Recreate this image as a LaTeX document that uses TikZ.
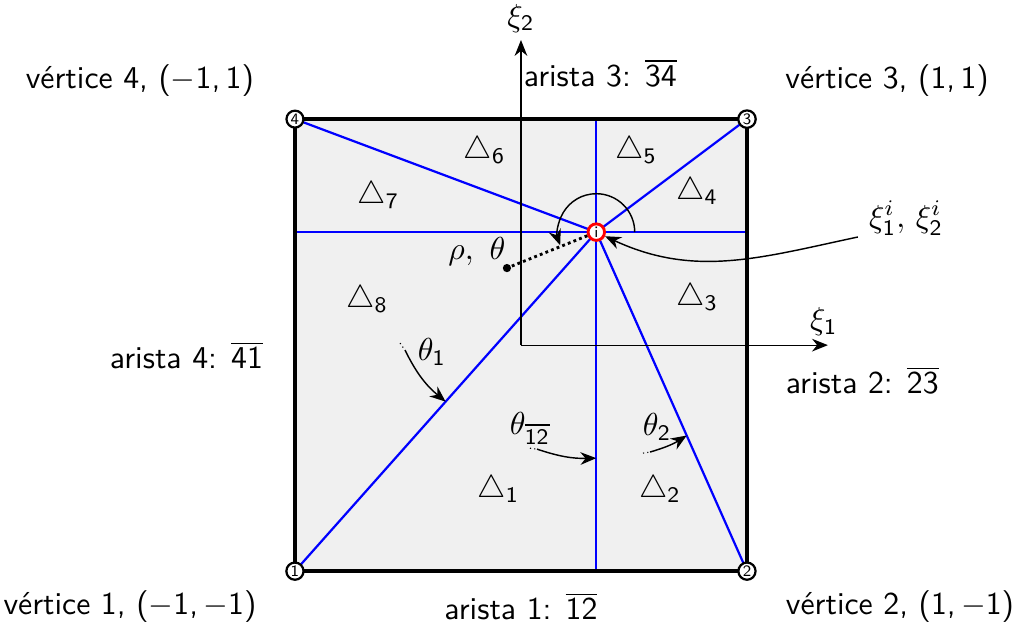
\documentclass[tikz,border=0pt]{standalone}
\usetikzlibrary{arrows.meta}
\renewcommand{\familydefault}{\sfdefault}

\begin{document}
\begin{tikzpicture}[
  x=2.5cm, y=2.5cm,
  >={Stealth[length=5pt,width=4pt]},
  element/.style={draw=black, line width=1.3pt},
  subdiv/.style={draw=blue, line width=0.7pt},
  axis/.style={->, draw=black, line width=0.4pt},
  vertex/.style={circle, draw=black, fill=white, line width=0.7pt, inner sep=0.4pt, minimum size=4.6pt, font=\sffamily\fontsize{5}{5}\selectfont},
  point_i/.style={circle, draw=red, fill=white, line width=0.9pt, inner sep=0pt, minimum size=5.2pt, font=\sffamily\fontsize{5}{5}\selectfont},
  angle_arrow/.style={->, draw=black, line width=0.45pt},
  angle_tail/.style={densely dotted, draw=black, line width=0.35pt},
  dot/.style={circle, fill=black, inner sep=0pt, minimum size=2.6pt}
]

\useasboundingbox (-2.305,-1.252) rectangle (2.177,1.527);

% Element corners and interior point
\foreach \k/\x/\y in {1/-1/-1,2/1/-1,3/1/1,4/-1/1} {
  \coordinate (c\k) at (\x,\y);
}
\coordinate (ic) at (0.3333,0.5);

% --- Element and subdivision ---
\fill[black!6] (c1) rectangle (c3);
\draw[subdiv] (c1 |- ic) -- (c2 |- ic);
\draw[subdiv] (ic |- c1) -- (ic |- c4);
\foreach \k in {1,...,4} {
  \draw[subdiv] (ic) -- (c\k);
}
\draw[element] (c1) rectangle (c3);

% --- Local axes ---
\coordinate (o) at (0,0);
\coordinate (e1) at (1.358,0);
\coordinate (e2) at (0,1.35);
\draw[axis] (o) -- (e1);
\draw[axis] (o) -- (e2);
\node (xi1) at (1.34,0.105) {$\xi_{\mathsf{1}}$};
\node (xi2) at (0,1.447) {$\xi_{\mathsf{2}}$};

% --- Polar coordinates around i ---
\draw[angle_arrow] ([shift={(0:0.17)}]ic) arc[start angle=0, end angle=200, radius=0.17];
\node[dot] (p) at (-0.062,0.341) {};
\node (rho) at (-0.195,0.412) {$\rho,\ \theta$};

% Point i and vertices
\node[point_i] (i) at (ic) {i};
\draw[densely dotted, line width=0.9pt] (i) -- (p);
\foreach \k in {1,...,4} {
  \node[vertex] (v\k) at (c\k) {\k};
}

\node (xii) at (1.704,0.562) {$\xi^i_{\mathsf{1}},\,\xi^i_{\mathsf{2}}$};
\draw[angle_arrow] ([yshift=3pt]xii.south west) to[out=192, in=-25] (i);

% --- Sub-triangles ---
\foreach \k/\x/\y in {1/-0.10/-0.64,2/0.615/-0.64,3/0.78/0.21,4/0.78/0.68,
                      5/0.51/0.86,6/-0.16/0.86,7/-0.63/0.66,8/-0.68/0.20} {
  \node (t\k) at (\x,\y) {$\triangle_{\mathsf{\k}}$};
}

% --- Angles ---
\path (c1) -- (ic) coordinate[pos=0.5] (a1);
\path (ic |- c1) -- (ic |- c4) coordinate[pos=0.25] (a12);
\path (ic) -- (c2) coordinate[pos=0.6] (a2);
\coordinate (s1) at (-0.535,0.009);
\coordinate (r1) at (-0.513,-0.022);
\coordinate (s12) at (0.040,-0.456);
\coordinate (r12) at (0.071,-0.460);
\coordinate (s2) at (0.540,-0.478);
\coordinate (r2) at (0.571,-0.473);
\draw[angle_tail] (s1) -- (r1);
\draw[angle_tail] (s12) -- (r12);
\draw[angle_tail] (s2) -- (r2);
\draw[angle_arrow] (r1) to[bend right=12] (a1);
\draw[angle_arrow] (r12) to[bend right=10] (a12);
\draw[angle_arrow] (r2) to[bend right=8] (a2);
\node (th1) at (-0.394,-0.031) {$\theta_{\mathsf{1}}$};
\node (th12) at (0.04,-0.367) {$\theta_{\overline{\mathsf{12}}}$};
\node (th2) at (0.602,-0.363) {$\theta_{\mathsf{2}}$};

% --- Labels ---
\node (lv1) at (-1.730,-1.155) {vértice 1, ($-$1,\,$-$1)};
\node (lv2) at (1.677,-1.155) {vértice 2, (1,\,$-$1)};
\node (lv3) at (1.62,1.172) {vértice 3, (1,\,1)};
\node (lv4) at (-1.686,1.172) {vértice 4, ($-$1,\,1)};
\node (la1) at (0,-1.155) {arista 1: $\overline{\mathsf{12}}$};
\node (la2) at (1.51,-0.155) {arista 2: $\overline{\mathsf{23}}$};
\node[anchor=west, inner sep=0pt] (la3) at (0.01,1.204) {arista 3: $\overline{\mathsf{34}}$};
\node (la4) at (-1.48,-0.044) {arista 4: $\overline{\mathsf{41}}$};

\end{tikzpicture}
\end{document}
